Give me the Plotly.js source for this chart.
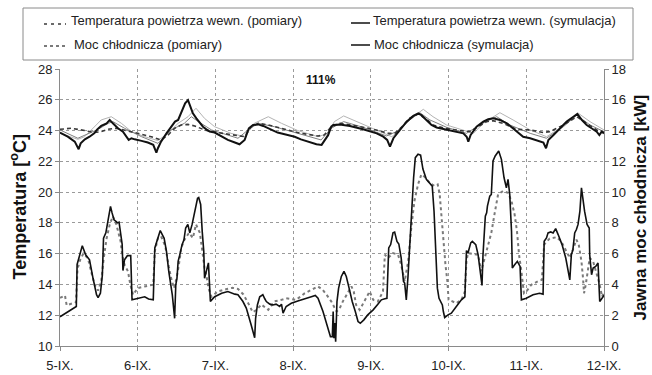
<!DOCTYPE html>
<html>
<head>
<meta charset="utf-8">
<script src="https://cdn.plot.ly/plotly-3.0.1.min.js"></script>
<style>html,body{margin:0;padding:0;background:#fff;}#chart{width:652px;height:375px;}</style>
</head>
<body>
<div id="chart"></div>
<script>
// ---- tick labels ----
const dayTicks = [0, 1, 2, 3, 4, 5, 6, 7];
const dayLabels = ["5-IX.", "6-IX.", "7-IX.", "8-IX.", "9-IX.", "10-IX.", "11-IX.", "12-IX."];

// ---- cooling power, simulation [kW] (x = days since 5-IX) ----
const coolSimDay = [0,0.21,0.22,0.24,0.287,0.33,0.38,0.425,0.47,0.49,0.52,0.545,0.56,0.59,0.62,0.65,0.67,0.695,0.72,0.74,0.76,0.78,0.8,0.81,0.83,0.867,0.91,0.927,1.0,1.09,1.14,1.2,1.22,1.245,1.29,1.34,1.37,1.4,1.445,1.475,1.49,1.505,1.52,1.54,1.57,1.595,1.617,1.645,1.67,1.7,1.73,1.77,1.785,1.81,1.83,1.85,1.86,1.89,1.91,1.935,1.99,2.08,2.16,2.25,2.29,2.354,2.397,2.46,2.505,2.517,2.54,2.57,2.61,2.635,2.655,2.7,2.74,2.78,2.826,2.85,2.87,2.91,2.976,3.06,3.17,3.234,3.285,3.32,3.384,3.44,3.48,3.504,3.515,3.525,3.537,3.547,3.564,3.585,3.62,3.654,3.684,3.72,3.76,3.8,3.835,3.864,3.91,3.96,4.03,4.09,4.135,4.18,4.207,4.23,4.255,4.285,4.306,4.336,4.36,4.39,4.42,4.435,4.456,4.478,4.5,4.52,4.55,4.572,4.607,4.64,4.67,4.714,4.757,4.79,4.813,4.835,4.856,4.877,4.9,4.92,4.933,4.95,4.993,5.036,5.1,5.165,5.21,5.23,5.25,5.285,5.306,5.35,5.38,5.414,5.43,5.443,5.456,5.473,5.49,5.5,5.53,5.55,5.572,5.6,5.645,5.68,5.714,5.744,5.765,5.787,5.81,5.82,5.85,5.885,5.92,5.937,6.0,6.087,6.17,6.216,6.23,6.26,6.28,6.315,6.345,6.378,6.41,6.46,6.508,6.537,6.56,6.58,6.6,6.623,6.645,6.666,6.69,6.71,6.73,6.75,6.782,6.81,6.816,6.84,6.86,6.893,6.923,6.945,6.988,7.0];
const coolSimKW = [1.9,2.57,5.3,5.7,6.52,5.93,5.6,4.4,3.33,3.15,3.43,4.6,7.0,7.35,8.3,9.07,8.65,8.2,8.1,8.0,8.05,7.24,6.6,4.9,5.6,5.87,5.87,3.0,3.1,3.2,3.06,3.0,6.37,6.8,7.5,7.0,6.15,4.84,3.32,1.8,3.97,4.4,5.5,5.9,6.57,6.9,7.67,7.9,7.35,7.9,8.65,9.6,9.65,9.2,7.45,6.15,4.4,4.95,5.4,2.9,3.2,3.43,3.54,3.37,3.33,2.89,2.46,1.37,0.54,1.8,2.67,3.2,3.33,3.07,2.89,2.72,2.67,2.72,2.57,2.72,2.13,2.57,2.78,2.93,3.07,3.2,3.28,3.1,2.24,1.26,0.6,0.6,2.24,0.5,1.5,0.28,2.89,3.76,4.52,4.85,4.52,3.76,2.89,2.24,1.59,1.48,1.7,2.02,2.35,2.72,3.0,3.07,3.1,6.37,6.59,7.35,7.4,6.8,6.63,5.72,4.2,4.09,3.0,4.52,6.59,8.76,10.93,12.24,12.46,12.4,11.5,10.83,10.54,10.39,8.76,5.93,3.76,3.1,2.89,2.67,2.24,1.85,2.02,2.13,2.57,3.0,3.2,6.2,6.04,6.7,6.8,6.59,5.93,4.63,3.93,5.93,7.46,8.43,8.65,9.09,9.74,9.85,12.02,12.35,12.67,12.13,10.93,10.28,10.83,9.85,7.46,5.07,5.28,5.5,5.17,3.0,3.1,3.33,3.43,3.37,6.8,7.02,7.35,7.41,7.35,7.63,7.24,6.59,5.72,4.85,4.3,5.93,6.26,7.35,7.57,7.9,8.76,10.28,9.3,8.76,7.9,7.67,5.93,4.63,5.07,5.17,5.39,2.89,3.2,3.3];

// ---- cooling power, measurement [kW] ----
const coolMeasDay = [0,0.064,0.086,0.15,0.206,0.225,0.26,0.3,0.36,0.4,0.446,0.49,0.53,0.56,0.6,0.64,0.68,0.725,0.75,0.78,0.8,0.83,0.875,0.905,0.94,1.0,1.09,1.2,1.22,1.26,1.3,1.355,1.4,1.43,1.467,1.5,1.53,1.56,1.6,1.66,1.71,1.75,1.8,1.83,1.86,1.89,1.91,1.95,2.03,2.16,2.22,2.29,2.36,2.42,2.48,2.53,2.59,2.68,2.76,2.85,2.91,3.04,3.15,3.32,3.38,3.43,3.49,3.56,3.6,3.64,3.706,3.75,3.78,3.81,3.856,3.9,3.96,3.985,4.03,4.09,4.156,4.18,4.22,4.285,4.35,4.39,4.435,4.48,4.52,4.56,4.607,4.65,4.69,4.757,4.82,4.86,4.886,4.907,4.93,4.96,4.985,5.0,5.036,5.1,5.165,5.21,5.23,5.25,5.315,5.38,5.42,5.465,5.51,5.55,5.594,5.637,5.7,5.765,5.81,5.85,5.88,5.907,5.937,5.97,6.0,6.065,6.15,6.2,6.23,6.3,6.39,6.45,6.516,6.56,6.6,6.645,6.675,6.71,6.73,6.743,6.765,6.795,6.816,6.86,6.9,6.945,6.975,7.0];
const coolMeasKW = [3.13,3.28,2.64,2.76,2.85,5.0,5.6,6.0,5.7,4.85,3.98,3.6,4.2,5.6,7.0,7.9,8.43,7.9,7.46,6.8,5.93,5.28,4.85,3.98,3.33,3.76,3.87,3.98,6.15,7.0,7.13,6.48,5.17,4.41,3.76,4.41,5.28,6.37,6.9,7.35,7.02,7.9,7.35,6.04,5.07,4.41,3.76,3.2,3.54,3.72,3.78,3.71,3.35,2.8,2.2,2.35,2.7,2.35,2.9,3.0,3.1,3.0,3.43,3.87,3.65,3.33,2.9,2.24,2.46,2.9,3.54,3.87,3.54,2.67,2.35,2.78,3.33,3.54,3.0,2.89,3.54,5.93,5.72,6.04,5.93,5.28,4.2,5.5,7.67,9.41,10.5,11.15,11.0,10.6,10.4,10.5,9.85,8.54,7.0,5.28,4.2,3.0,2.93,2.78,3.0,3.54,5.5,6.04,5.98,5.93,4.85,5.72,6.59,7.35,8.65,9.85,10.07,9.96,9.41,8.54,7.46,5.93,4.85,3.43,3.54,3.98,4.2,4.3,6.59,6.98,7.07,6.8,6.15,5.72,6.26,6.91,6.59,5.5,4.41,3.43,3.98,5.07,5.72,5.5,4.74,3.98,3.2,3.54];

// ---- indoor air temperature, simulation [°C] ----
const tempSimDay = [0,0.1,0.19,0.22,0.24,0.266,0.32,0.38,0.44,0.48,0.53,0.6,0.64,0.68,0.746,0.81,0.854,0.884,0.92,0.96,1.05,1.13,1.2,1.22,1.24,1.26,1.3,1.37,1.43,1.48,1.52,1.56,1.61,1.647,1.68,1.71,1.755,1.8,1.84,1.883,1.926,1.99,2.08,2.16,2.25,2.31,2.376,2.43,2.484,2.55,2.615,2.7,2.8,2.93,3.02,3.1,3.19,3.3,3.366,3.41,3.45,3.49,3.517,3.6,3.73,3.9,4.075,4.16,4.21,4.246,4.29,4.375,4.46,4.546,4.61,4.65,4.72,4.78,4.846,4.954,5.1,5.19,5.233,5.254,5.284,5.36,5.447,5.51,5.576,5.66,5.75,5.83,5.898,5.96,6.05,6.13,6.22,6.254,6.284,6.35,6.434,6.52,6.606,6.657,6.713,6.777,6.84,6.906,6.94,6.97,7.0];
const tempSimC = [23.87,23.6,23.28,22.96,22.79,23.17,23.43,23.6,23.82,24.08,24.3,24.47,24.69,24.47,24.15,23.93,23.6,23.39,23.5,23.43,23.33,23.22,23.07,22.74,22.57,22.85,23.28,23.82,24.25,24.58,24.69,25.23,25.77,25.98,25.55,25.12,24.79,24.47,24.25,24.08,23.93,23.87,23.6,23.39,23.22,23.11,23.39,24.15,24.36,24.4,24.3,24.1,23.87,23.71,23.6,23.43,23.28,23.11,23.07,23.4,23.7,24.25,24.36,24.4,24.3,24.08,23.82,23.6,23.39,22.96,23.5,24.04,24.58,24.95,25.12,25.0,24.69,24.36,24.2,24.08,23.93,23.82,23.6,23.28,23.71,24.25,24.58,24.73,24.8,24.69,24.47,24.15,23.82,23.6,23.5,23.39,23.22,22.85,23.39,23.71,24.15,24.58,24.9,25.08,24.69,24.36,24.15,23.93,23.71,23.93,23.82];

// ---- indoor air temperature, measurement [°C] ----
const tempMeasDay = [0,0.146,0.317,0.446,0.53,0.618,0.725,0.83,1.0,1.175,1.3,1.39,1.476,1.56,1.647,1.733,1.86,2.03,2.25,2.376,2.46,2.55,2.68,2.89,3.1,3.32,3.4,3.49,3.6,3.82,4.03,4.225,4.31,4.4,4.5,4.61,4.72,4.8,4.954,5.147,5.275,5.38,5.49,5.576,5.7,5.876,6.05,6.22,6.3,6.477,6.65,6.777,6.906,7.0];
const tempMeasC = [24.08,24.15,24.0,23.87,23.93,24.08,24.15,24.04,23.82,23.6,23.39,23.71,24.15,24.36,24.4,24.3,24.04,23.87,23.71,23.6,24.25,24.47,24.36,24.08,23.82,23.65,23.71,24.25,24.47,24.3,24.08,23.82,23.82,24.25,24.8,25.08,24.73,24.36,24.15,24.0,23.93,24.25,24.58,24.64,24.47,24.08,24.04,23.87,23.93,24.36,24.9,24.47,24.04,23.87];

// ---- additional thin temperature curves (light grey and grey) ----
const tempLightDay = [0,0.23,0.317,0.446,0.53,0.66,0.79,0.92,1.09,1.26,1.39,1.52,1.647,1.75,1.86,1.99,2.2,2.376,2.5,2.68,2.85,3.06,3.32,3.45,3.53,3.65,3.82,4.03,4.27,4.375,4.546,4.675,4.8,4.975,5.19,5.32,5.447,5.66,5.83,6.05,6.26,6.434,6.67,6.82,7.0];
const tempLightC = [23.82,23.43,23.6,24.25,24.69,24.9,24.47,23.93,23.6,23.35,23.82,24.47,24.9,25.45,24.79,24.25,23.82,23.6,24.47,24.9,24.47,24.0,23.6,23.82,24.58,24.95,24.58,24.15,23.6,24.04,24.9,25.38,24.9,24.36,24.04,23.82,24.47,25.16,24.69,24.04,23.6,24.15,25.12,24.58,24.04];
const tempGreyDay = [0,0.23,0.49,0.62,0.68,0.83,1.05,1.26,1.43,1.6,1.69,1.78,1.95,2.29,2.42,2.55,2.76,3.06,3.36,3.49,3.65,3.9,4.2,4.33,4.5,4.63,4.76,4.975,5.23,5.447,5.62,5.79,6.05,6.26,6.477,6.65,6.82,7.0];
const tempGreyC = [24.04,23.5,24.08,24.47,24.58,24.15,23.6,23.17,24.04,24.47,24.9,24.58,24.04,23.5,24.04,24.47,24.25,23.82,23.39,24.15,24.58,24.21,23.65,23.93,24.69,25.16,24.69,24.21,23.82,24.51,24.9,24.36,23.82,23.5,24.25,25.0,24.36,23.93];

// ---- legend texts ----
const legendTexts = ["Temperatura powietrza wewn. (pomiary)", "Temperatura powietrza wewn. (symulacja)", "Moc chłodnicza (pomiary)", "Moc chłodnicza (symulacja)"];

// ---- geometry helpers (plot area: x 60..604, y 69..346) ----
const L = 60, R = 604, T = 69, B = 346;
const pxX = x => (x - L) / (R - L);
const pxY = y => (B - y) / (B - T);

const FONT = "Liberation Sans, Arial, sans-serif";

const traces = [
  {x: tempLightDay, y: tempLightC, yaxis: 'y', mode: 'lines', line: {color: '#b4b4b4', width: 1}, hoverinfo: 'skip'},
  {x: tempGreyDay, y: tempGreyC, yaxis: 'y', mode: 'lines', line: {color: '#808080', width: 1}, hoverinfo: 'skip'},
  {x: tempMeasDay, y: tempMeasC, yaxis: 'y', mode: 'lines', line: {color: '#3a3a3a', width: 1.6, dash: '4px,3px'}},
  {x: tempSimDay, y: tempSimC, yaxis: 'y', mode: 'lines', line: {color: '#111', width: 2}},
  {x: coolMeasDay, y: coolMeasKW, yaxis: 'y2', mode: 'lines', line: {color: '#7a7a7a', width: 2, dash: 'dot'}},
  {x: coolSimDay, y: coolSimKW, yaxis: 'y2', mode: 'lines', line: {color: '#111', width: 1.6}}
];

const axisCommon = {
  showgrid: true, gridcolor: '#9a9a9a', griddash: 'dot', gridwidth: 1,
  showline: true, linecolor: '#8a8a8a', linewidth: 1,
  ticks: 'outside', ticklen: 4, tickcolor: '#8a8a8a',
  zeroline: false, tickfont: {family: FONT, size: 13, color: '#222'}
};

const legendShapes = [
  {type: 'rect', xref: 'paper', yref: 'paper', x0: pxX(23), x1: pxX(633), y0: pxY(60), y1: pxY(8), line: {color: '#8a8a8a', width: 1}, fillcolor: 'rgba(0,0,0,0)'},
  {type: 'line', xref: 'paper', yref: 'paper', x0: pxX(44), x1: pxX(66), y0: pxY(24), y1: pxY(24), line: {color: '#3a3a3a', width: 1.5, dash: '3px,4px'}},
  {type: 'line', xref: 'paper', yref: 'paper', x0: pxX(351), x1: pxX(370), y0: pxY(23), y1: pxY(23), line: {color: '#111', width: 1.5}},
  {type: 'line', xref: 'paper', yref: 'paper', x0: pxX(44), x1: pxX(66), y0: pxY(46), y1: pxY(46), line: {color: '#7a7a7a', width: 2, dash: 'dot'}},
  {type: 'line', xref: 'paper', yref: 'paper', x0: pxX(351), x1: pxX(370), y0: pxY(45), y1: pxY(45), line: {color: '#111', width: 1.5}}
];

const legendPos = [[69, 21], [371, 21], [72, 44], [372, 44]];
const annotations = legendTexts.map((t, i) => ({
  text: t, xref: 'paper', yref: 'paper', x: pxX(legendPos[i][0]), y: pxY(legendPos[i][1]),
  xanchor: 'left', yanchor: 'middle', showarrow: false,
  font: {family: FONT, size: 13, color: '#222'}
}));
annotations.push(
  {text: '<b>111%</b>', xref: 'paper', yref: 'paper', x: pxX(321), y: pxY(80), xanchor: 'center', yanchor: 'middle', showarrow: false, font: {family: FONT, size: 12, color: '#111'}},
  {text: '<b>Temperatura [<sup>o</sup>C]</b>', xref: 'paper', yref: 'paper', x: pxX(19), y: 0.5, xanchor: 'center', yanchor: 'middle', textangle: -90, showarrow: false, font: {family: FONT, size: 18, color: '#111'}},
  {text: '<b>Jawna moc chłodnicza [kW]</b>', xref: 'paper', yref: 'paper', x: pxX(640), y: 0.5, xanchor: 'center', yanchor: 'middle', textangle: -90, showarrow: false, font: {family: FONT, size: 17, color: '#111'}}
);

const layout = {
  width: 652, height: 375,
  margin: {l: L, r: 652 - R, t: T, b: 375 - B, pad: 0},
  paper_bgcolor: '#fff', plot_bgcolor: '#fff',
  showlegend: false,
  font: {family: FONT, size: 13, color: '#222'},
  xaxis: Object.assign({}, axisCommon, {range: [0, 7], tickvals: dayTicks, ticktext: dayLabels, ticklabelstandoff: 3}),
  yaxis: Object.assign({}, axisCommon, {range: [10, 28], dtick: 2, tick0: 10}),
  yaxis2: Object.assign({}, axisCommon, {range: [0, 18], dtick: 2, tick0: 0, overlaying: 'y', side: 'right', showgrid: false}),
  shapes: legendShapes,
  annotations: annotations
};

Plotly.newPlot('chart', traces, layout, {displayModeBar: false, staticPlot: true});
</script>
</body>
</html>
